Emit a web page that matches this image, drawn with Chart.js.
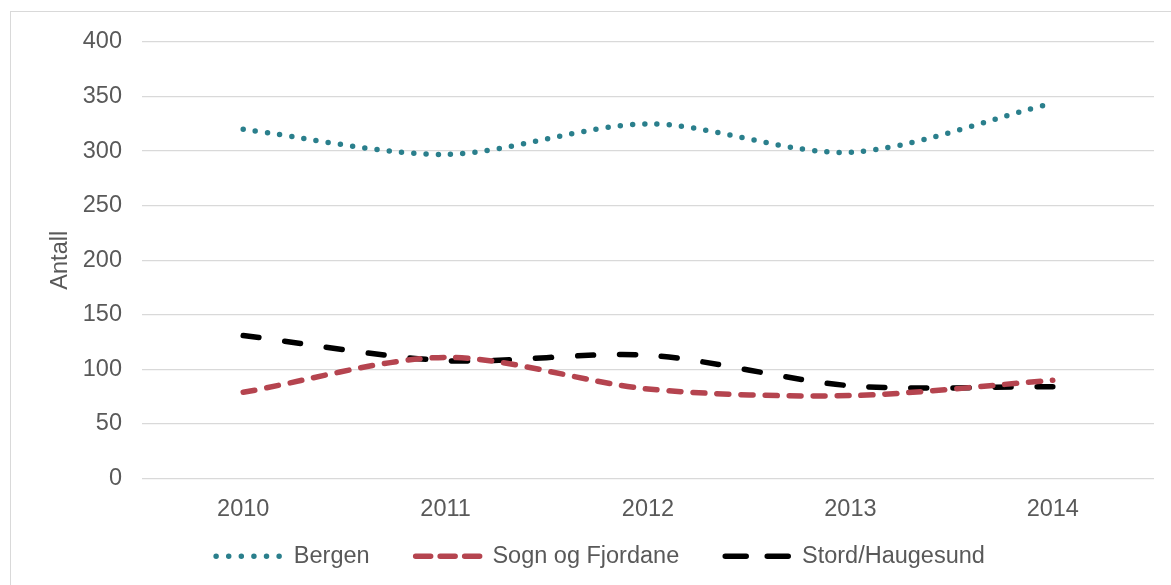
<!DOCTYPE html>
<html>
<head>
    <title>Antall</title>
    <script src="https://cdn.jsdelivr.net/npm/chart.js"></script>
    <style>
        body { margin: 0; background: #fff; }
        #frame { position: absolute; left: 10px; top: 11px; width: 1300px; height: 700px; border: 1px solid #d9d9d9; }
        #wrap { position: absolute; left: 0; top: 0; width: 1171px; height: 585px; }
    </style>
</head>
<body>
<div id="frame"></div>
<div id="wrap"><canvas id="lineChart"></canvas></div>

<script>
    // data
    var years = ['2010', '2011', '2012', '2013', '2014'];
    var bergen = [320, 297, 325, 299, 344];
    var sognFjordane = [79, 111, 82, 76, 90];
    var stordHaugesund = [131, 108, 113, 85, 84];

    var textColor = '#595959';
    var gridColor = '#d9d9d9';
    var fontFamily = '"Liberation Sans", Arial, sans-serif';

    // draws the legend markers as dotted/dashed lines instead of boxes
    var legendLines = {
        id: 'legendLines',
        afterDraw: function(chart) {
            var legend = chart.legend;
            if (!legend || !legend.legendHitBoxes) return;
            var ctx = chart.ctx;
            legend.legendItems.forEach(function(item, i) {
                var hb = legend.legendHitBoxes[i];
                var ds = chart.data.datasets[item.datasetIndex];
                var y = hb.top + hb.height / 2;
                var x0 = hb.left + ds.legendStart;
                var x1 = hb.left + ds.legendEnd;
                ctx.save();
                ctx.strokeStyle = ds.borderColor;
                ctx.lineWidth = ds.borderWidth;
                ctx.lineCap = 'round';
                ctx.setLineDash(ds.legendDash);
                ctx.beginPath();
                ctx.moveTo(x0, y);
                ctx.lineTo(x1, y);
                ctx.stroke();
                ctx.restore();
            });
        }
    };

    var ctx = document.getElementById('lineChart').getContext('2d');
    var lineChart = new Chart(ctx, {
        type: 'line',
        data: {
            labels: years,
            datasets: [
                {
                    label: 'Bergen',
                    data: bergen,
                    borderColor: '#2a7f8c',
                    borderWidth: 5.5,
                    borderDash: [0, 12.3],
                    borderCapStyle: 'round',
                    legendDash: [0, 12.6],
                    legendStart: 35,
                    legendEnd: 101
                },
                {
                    label: 'Sogn og Fjordane',
                    data: sognFjordane,
                    borderColor: '#b5444f',
                    borderWidth: 5.5,
                    borderDash: [12, 12],
                    borderCapStyle: 'round',
                    legendDash: [15, 9.5],
                    legendStart: 36,
                    legendEnd: 101
                },
                {
                    label: 'Stord/Haugesund',
                    data: stordHaugesund,
                    borderColor: '#000000',
                    borderWidth: 5.5,
                    borderDash: [16, 26],
                    borderCapStyle: 'round',
                    legendDash: [21, 21],
                    legendStart: 36,
                    legendEnd: 101
                }
            ]
        },
        options: {
            responsive: true,
            maintainAspectRatio: false,
            animation: false,
            elements: {
                line: { tension: 0.3, fill: false },
                point: { radius: 0, hoverRadius: 0 }
            },
            layout: {
                padding: { left: 12, top: 42, right: 17, bottom: 7 }
            },
            scales: {
                x: {
                    offset: true,
                    grid: { display: false, drawTicks: false },
                    border: { display: false },
                    ticks: {
                        color: textColor,
                        font: { family: fontFamily, size: 23.5 },
                        padding: 17
                    },
                    afterFit: function(scale) { scale.height = 56; }
                },
                y: {
                    min: 0,
                    max: 400,
                    grid: { color: gridColor, lineWidth: 1.3, drawTicks: false },
                    border: { display: false },
                    ticks: {
                        stepSize: 50,
                        color: textColor,
                        font: { family: fontFamily, size: 23.5 },
                        padding: 20
                    },
                    title: {
                        display: true,
                        text: 'Antall',
                        color: textColor,
                        font: { family: fontFamily, size: 23.5, lineHeight: 1.2 },
                        padding: { top: 34, bottom: 0 }
                    },
                    afterFit: function(scale) { scale.width = 130; }
                }
            },
            plugins: {
                tooltip: { enabled: false },
                legend: {
                    position: 'bottom',
                    labels: {
                        color: textColor,
                        font: { family: fontFamily, size: 23.5 },
                        boxWidth: 101,
                        boxHeight: 22,
                        padding: 10,
                        generateLabels: function(chart) {
                            return chart.data.datasets.map(function(ds, i) {
                                return {
                                    text: ds.label,
                                    datasetIndex: i,
                                    fillStyle: 'rgba(0,0,0,0)',
                                    strokeStyle: 'rgba(0,0,0,0)',
                                    lineWidth: 0,
                                    fontColor: textColor,
                                    hidden: false
                                };
                            });
                        }
                    }
                }
            }
        },
        plugins: [legendLines]
    });
</script>
</body>
</html>
